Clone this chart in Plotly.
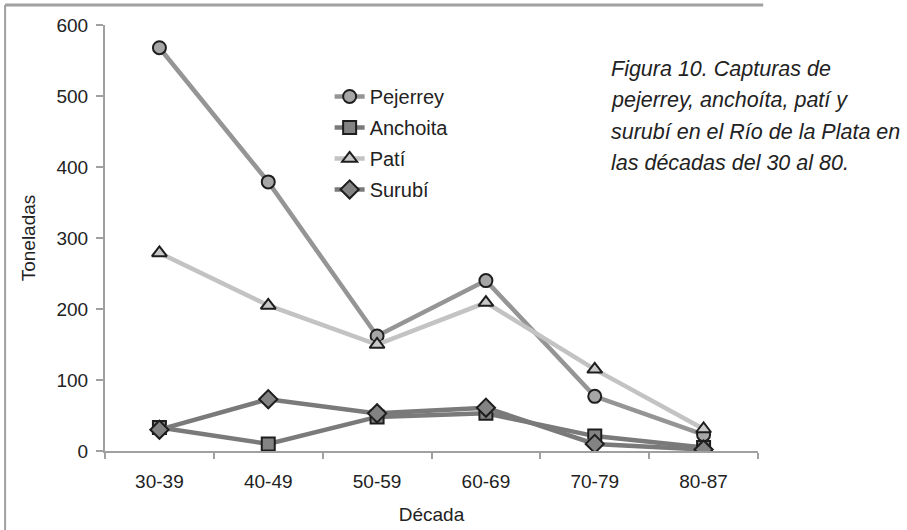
import plotly.graph_objects as go

decades = ["30-39", "40-49", "50-59", "60-69", "70-79", "80-87"]
pejerrey = [568, 379, 162, 240, 77, 23]
anchoita = [33, 10, 48, 53, 21, 5]
pati = [279, 205, 150, 209, 115, 31]
surubi = [30, 73, 53, 61, 10, 2]

series = [
    ("Pejerrey", pejerrey, "#959595", "circle", "#a6a6a6", 13),
    ("Anchoita", anchoita, "#7a7a7a", "square", "#838383", 13),
    ("Patí", pati, "#c3c3c3", "triangle-up", "#c8c8c8", 13),
    ("Surubí", surubi, "#7a7a7a", "diamond", "#838383", 14),
]

fig = go.Figure()
for name, vals, lc, sym, fc, sz in series:
    fig.add_trace(go.Scatter(
        x=decades, y=vals, name=name, mode="lines+markers",
        legendgroup=name,
        line=dict(color=lc, width=4.5),
        marker=dict(symbol=sym, size=sz, color=fc,
                    line=dict(color="#1e1e1e", width=2)),
    ))

font = "Liberation Sans, Arial, sans-serif"
fig.update_layout(
    width=907, height=530,
    margin=dict(l=105, r=149, t=25, b=79),
    paper_bgcolor="white", plot_bgcolor="white",
    font=dict(family=font, size=19, color="#222"),
    showlegend=True,
    legend=dict(x=0.344, y=0.878, xanchor="left", yanchor="top",
                bgcolor="rgba(0,0,0,0)", font=dict(size=20, color="#222"),
                tracegroupgap=2, itemwidth=30),
    xaxis=dict(
        type="category", range=[-0.5, 5.5], automargin=False,
        showline=True, linecolor="#a0a0a0", linewidth=2,
        ticks="outside", tickson="boundaries", ticklen=6, tickcolor="#a0a0a0", tickwidth=2,
        ticklabelstandoff=12,
        showgrid=False, zeroline=False,
        tickfont=dict(size=19, color="#222"),
        title=dict(text="Década", font=dict(size=19, color="#222"), standoff=17),
    ),
    yaxis=dict(
        range=[0, 600], dtick=100, automargin=False,
        showline=True, linecolor="#a0a0a0", linewidth=2,
        ticks="outside", ticklen=7, tickcolor="#a0a0a0", tickwidth=2,
        ticklabelstandoff=4,
        showgrid=False, zeroline=False,
        tickfont=dict(size=19, color="#222"),
        title=dict(text="Toneladas", font=dict(size=19, color="#222"), standoff=16),
    ),
    shapes=[
        dict(type="line", xref="paper", yref="paper", x0=-0.153, x1=1.008, y0=1.047, y1=1.047,
             line=dict(color="#a0a0a0", width=3)),
        dict(type="line", xref="paper", yref="paper", x0=-0.153, x1=-0.153, y0=1.047, y1=-0.19,
             line=dict(color="#a0a0a0", width=2)),
    ],
)

caption = ["Figura 10. Capturas de", "pejerrey, anchoíta, patí y",
           "surubí en el Río de la Plata en", "las décadas del 30 al 80."]
for i, line in enumerate(caption):
    fig.add_annotation(
        xref="paper", yref="paper", x=(609 - 105) / 653, y=(451 - (69 + 31.3 * i)) / 426,
        xanchor="left", yanchor="middle", showarrow=False, align="left",
        text="<i>" + line + "</i>",
        font=dict(family="Liberation Sans, Arial, sans-serif", size=21.5, color="#222"),
    )

fig.write_html("out.html", config={"displayModeBar": False},
               post_script="document.body.style.margin='0px';")
